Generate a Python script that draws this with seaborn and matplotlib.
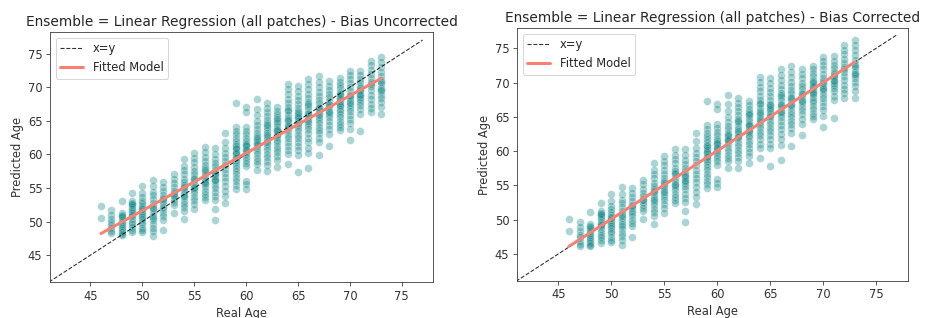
import matplotlib
matplotlib.use("Agg")
import matplotlib.pyplot as plt
import seaborn as sns
import pandas as pd

ages = list(range(46, 74))

# Predicted ages per real age (bias uncorrected)
pred_uncorrected = [
    [52.3, 50.5],
    [51.7, 51.0, 50.4, 49.9, 49.5, 49.0, 48.6, 48.3],
    [53.0, 51.3, 50.9, 50.6, 50.3, 50.0, 49.7, 49.4, 49.1, 48.8, 48.5, 48.2, 48.0, 50.8],
    [54.2, 53.1, 52.8, 52.5, 52.2, 51.9, 51.5, 51.2, 50.8, 50.4, 50.0, 49.6, 49.2, 48.8, 48.4, 52.6, 51.0],
    [55.3, 54.3, 53.6, 53.1, 52.7, 52.3, 52.0, 51.6, 51.3, 51.0, 50.7, 50.4, 50.0, 49.6, 49.0, 48.7, 48.4, 51.8],
    [56.2, 55.3, 54.4, 53.9, 53.3, 52.8, 52.3, 51.8, 51.3, 50.8, 50.2, 49.6, 49.1, 48.6, 47.8, 52.0, 50.5],
    [55.9, 55.2, 54.6, 54.0, 53.5, 53.0, 52.6, 52.2, 51.8, 51.3, 50.8, 50.3, 48.7, 53.3],
    [57.0, 56.4, 55.7, 55.1, 54.6, 54.2, 53.8, 53.4, 52.9, 52.4, 51.3, 54.0],
    [59.3, 58.3, 57.6, 57.0, 56.4, 55.9, 55.4, 55.0, 54.6, 54.1, 53.6, 53.1, 52.6, 52.1, 51.5, 50.4, 55.2, 53.8],
    [60.2, 59.5, 58.8, 58.1, 57.5, 57.0, 56.5, 56.0, 55.6, 55.2, 54.7, 54.2, 53.7, 53.2, 52.6, 51.8, 56.3, 55.0],
    [61.1, 60.3, 59.6, 59.0, 58.4, 57.9, 57.4, 56.9, 56.4, 56.0, 55.6, 55.1, 54.6, 54.1, 53.6, 53.2, 57.6, 55.8],
    [60.9, 60.0, 59.3, 58.7, 58.2, 57.7, 57.2, 56.8, 56.4, 56.0, 55.5, 55.0, 54.4, 53.8, 53.2, 51.9, 50.3, 57.0, 56.2],
    [63.1, 61.9, 60.9, 60.2, 59.6, 59.0, 58.4, 57.8, 57.2, 56.6, 56.0, 55.3, 54.6, 53.8, 52.8],
    [67.6, 64.1, 63.5, 63.0, 62.5, 62.0, 61.6, 61.2, 60.8, 60.4, 60.0, 59.6, 59.2, 58.8, 58.4, 58.0, 57.5, 57.0, 56.5, 56.0, 55.5, 54.9, 60.2, 59.4, 61.0],
    [67.1, 66.3, 64.1, 63.5, 63.0, 62.5, 62.0, 61.6, 61.2, 60.8, 60.4, 60.0, 59.6, 59.2, 58.7, 58.2, 56.1, 55.6, 54.9, 61.4, 60.6],
    [68.2, 66.8, 65.8, 65.0, 64.3, 63.7, 63.2, 62.7, 62.2, 61.8, 61.4, 61.0, 60.5, 60.0, 59.5, 59.0, 58.5, 57.6, 62.4, 61.6],
    [67.6, 66.9, 66.3, 65.7, 65.1, 64.6, 64.1, 63.6, 63.1, 62.6, 62.1, 61.6, 61.1, 60.6, 60.1, 59.6, 59.0, 58.4, 57.5, 62.9, 61.9, 64.3],
    [67.1, 66.5, 66.0, 65.5, 65.0, 64.6, 64.2, 63.8, 63.4, 63.0, 62.6, 62.2, 61.8, 61.3, 60.8, 60.3, 59.7, 59.1, 58.1, 63.6, 62.8, 65.2],
    [70.4, 69.7, 69.0, 68.3, 67.6, 67.0, 66.4, 65.9, 65.4, 64.9, 64.4, 63.9, 63.4, 62.9, 62.4, 61.9, 61.3, 60.7, 60.0, 58.6, 65.1, 64.2, 66.6],
    [70.1, 69.4, 68.7, 68.1, 67.5, 66.9, 66.4, 65.9, 65.4, 64.9, 64.4, 63.9, 63.4, 62.9, 62.4, 61.8, 61.2, 60.6, 59.9, 57.3, 65.6, 64.6, 66.2],
    [71.2, 70.4, 69.7, 69.0, 68.4, 67.8, 67.2, 66.7, 66.2, 65.7, 65.2, 64.7, 64.2, 63.7, 63.1, 62.5, 61.8, 61.0, 60.2, 58.0, 66.0, 65.0, 67.5],
    [71.6, 70.8, 70.0, 69.3, 68.7, 68.1, 67.6, 67.1, 66.6, 66.1, 65.6, 65.1, 64.6, 64.1, 63.6, 63.1, 62.5, 61.8, 59.9, 66.9, 65.9],
    [70.9, 70.2, 69.6, 69.0, 68.5, 68.0, 67.5, 67.0, 66.5, 66.0, 65.5, 65.0, 64.4, 63.7, 63.0, 61.3, 67.3, 66.3],
    [71.3, 70.8, 70.3, 69.8, 69.3, 68.8, 68.4, 68.0, 67.6, 67.2, 66.8, 66.4, 66.0, 65.5, 65.0, 64.5, 64.0, 63.6, 68.2, 67.4, 69.0],
    [72.4, 71.8, 71.2, 70.6, 70.0, 69.4, 68.9, 68.4, 67.9, 67.4, 66.9, 66.4, 65.9, 65.3, 64.7, 63.8, 62.2, 68.7, 67.7],
    [72.4, 71.8, 71.2, 70.7, 70.2, 69.8, 69.4, 69.0, 68.6, 68.2, 67.8, 67.3, 66.7, 66.0, 63.4, 69.6, 68.8],
    [73.9, 73.3, 72.6, 71.9, 71.3, 70.7, 70.1, 69.5, 68.9, 68.2, 67.5, 66.9, 66.3, 70.4],
    [74.5, 73.7, 73.0, 72.3, 71.6, 71.0, 70.4, 69.9, 69.4, 68.9, 68.4, 67.8, 67.0, 66.0, 70.7, 69.6],
]

# Predicted ages per real age (bias corrected)
pred_corrected = [
    [50.1, 48.3],
    [49.6, 48.9, 48.3, 47.8, 47.4, 46.9, 46.5, 46.2],
    [51.1, 49.4, 49.0, 48.7, 48.4, 48.1, 47.8, 47.5, 47.2, 46.9, 46.6, 46.3, 46.1, 48.9],
    [52.4, 51.3, 51.0, 50.7, 50.4, 50.1, 49.7, 49.4, 49.0, 48.6, 48.2, 47.8, 47.4, 47.0, 46.6, 50.8, 49.2],
    [53.7, 52.7, 52.0, 51.5, 51.1, 50.7, 50.4, 50.0, 49.7, 49.4, 49.1, 48.8, 48.4, 48.0, 47.4, 47.1, 46.8, 50.2],
    [54.7, 53.8, 52.9, 52.4, 51.8, 51.3, 50.8, 50.3, 49.8, 49.3, 48.7, 48.1, 47.6, 47.1, 46.3, 50.5, 49.0],
    [54.6, 53.9, 53.3, 52.7, 52.2, 51.7, 51.3, 50.9, 50.5, 50.0, 49.5, 49.0, 47.4, 52.0],
    [55.8, 55.2, 54.5, 53.9, 53.4, 53.0, 52.6, 52.2, 51.7, 51.2, 50.1, 52.8],
    [58.3, 57.3, 56.6, 56.0, 55.4, 54.9, 54.4, 54.0, 53.6, 53.1, 52.6, 52.1, 51.6, 51.1, 50.5, 49.4, 54.2, 52.8],
    [59.3, 58.6, 57.9, 57.2, 56.6, 56.1, 55.6, 55.1, 54.7, 54.3, 53.8, 53.3, 52.8, 52.3, 51.7, 50.9, 55.4, 54.1],
    [60.3, 59.5, 58.8, 58.2, 57.6, 57.1, 56.6, 56.1, 55.6, 55.2, 54.8, 54.3, 53.8, 53.3, 52.8, 52.4, 56.8, 55.0],
    [60.3, 59.4, 58.7, 58.1, 57.6, 57.1, 56.6, 56.2, 55.8, 55.4, 54.9, 54.4, 53.8, 53.2, 52.6, 51.3, 49.7, 56.4, 55.6],
    [62.6, 61.4, 60.4, 59.7, 59.1, 58.5, 57.9, 57.3, 56.7, 56.1, 55.5, 54.8, 54.1, 53.3, 52.3],
    [67.3, 63.8, 63.2, 62.7, 62.2, 61.7, 61.3, 60.9, 60.5, 60.1, 59.7, 59.3, 58.9, 58.5, 58.1, 57.7, 57.2, 56.7, 56.2, 55.7, 55.2, 54.6, 59.9, 59.1, 60.7],
    [66.9, 66.1, 63.9, 63.3, 62.8, 62.3, 61.8, 61.4, 61.0, 60.6, 60.2, 59.8, 59.4, 59.0, 58.5, 58.0, 55.9, 55.4, 54.7, 61.2, 60.4],
    [68.2, 66.8, 65.8, 65.0, 64.3, 63.7, 63.2, 62.7, 62.2, 61.8, 61.4, 61.0, 60.5, 60.0, 59.5, 59.0, 58.5, 57.6, 62.4, 61.6],
    [67.7, 67.0, 66.4, 65.8, 65.2, 64.7, 64.2, 63.7, 63.2, 62.7, 62.2, 61.7, 61.2, 60.7, 60.2, 59.7, 59.1, 58.5, 57.6, 63.0, 62.0, 64.4],
    [67.3, 66.7, 66.2, 65.7, 65.2, 64.8, 64.4, 64.0, 63.6, 63.2, 62.8, 62.4, 62.0, 61.5, 61.0, 60.5, 59.9, 59.3, 58.3, 63.8, 63.0, 65.4],
    [70.8, 70.1, 69.4, 68.7, 68.0, 67.4, 66.8, 66.3, 65.8, 65.3, 64.8, 64.3, 63.8, 63.3, 62.8, 62.3, 61.7, 61.1, 60.4, 59.0, 65.5, 64.6, 67.0],
    [70.6, 69.9, 69.2, 68.6, 68.0, 67.4, 66.9, 66.4, 65.9, 65.4, 64.9, 64.4, 63.9, 63.4, 62.9, 62.3, 61.7, 61.1, 60.4, 57.8, 66.1, 65.1, 66.7],
    [71.9, 71.1, 70.4, 69.7, 69.1, 68.5, 67.9, 67.4, 66.9, 66.4, 65.9, 65.4, 64.9, 64.4, 63.8, 63.2, 62.5, 61.7, 60.9, 58.7, 66.7, 65.7, 68.2],
    [72.4, 71.6, 70.8, 70.1, 69.5, 68.9, 68.4, 67.9, 67.4, 66.9, 66.4, 65.9, 65.4, 64.9, 64.4, 63.9, 63.3, 62.6, 60.7, 67.7, 66.7],
    [71.9, 71.2, 70.6, 70.0, 69.5, 69.0, 68.5, 68.0, 67.5, 67.0, 66.5, 66.0, 65.4, 64.7, 64.0, 62.3, 68.3, 67.3],
    [72.4, 71.9, 71.4, 70.9, 70.4, 69.9, 69.5, 69.1, 68.7, 68.3, 67.9, 67.5, 67.1, 66.6, 66.1, 65.6, 65.1, 64.7, 69.3, 68.5, 70.1],
    [73.7, 73.1, 72.5, 71.9, 71.3, 70.7, 70.2, 69.7, 69.2, 68.7, 68.2, 67.7, 67.2, 66.6, 66.0, 65.1, 63.5, 70.0, 69.0],
    [73.8, 73.2, 72.6, 72.1, 71.6, 71.2, 70.8, 70.4, 70.0, 69.6, 69.2, 68.7, 68.1, 67.4, 64.8, 71.0, 70.2],
    [75.4, 74.8, 74.1, 73.4, 72.8, 72.2, 71.6, 71.0, 70.4, 69.7, 69.0, 68.4, 67.8, 71.9],
    [76.2, 75.4, 74.7, 74.0, 73.3, 72.7, 72.1, 71.6, 71.1, 70.6, 70.1, 69.5, 68.7, 67.7, 72.4, 71.3],
]

# Reference (x=y) line and fitted model end points
identity_x = [41, 77]
fit_x = [46, 73]
fit_uncorrected = [48.2, 71.3]
fit_corrected = [46.1, 73.0]

titles = ["Ensemble = Linear Regression (all patches) - Bias Uncorrected",
          "Ensemble = Linear Regression (all patches) - Bias Corrected"]
xticks = [45, 50, 55, 60, 65, 70, 75]
yticks = [45, 50, 55, 60, 65, 70, 75]


def to_frame(per_age):
    rows = [(a, v) for a, vals in zip(ages, per_age) for v in vals]
    return pd.DataFrame(rows, columns=["Real Age", "Predicted Age"])


sns.set_style("ticks")
plt.rcParams["font.family"] = ["DejaVu Sans"]
plt.rcParams["axes.edgecolor"] = "#333333"
plt.rcParams["xtick.major.size"] = 4
plt.rcParams["ytick.major.size"] = 4

fig = plt.figure(figsize=(927 / 72, 318 / 72), dpi=72)
ax1 = fig.add_axes([50 / 927, 36 / 318, 383 / 927, 250 / 318])
ax2 = fig.add_axes([517 / 927, 37 / 318, 391 / 927, 253 / 318])

panels = [(ax1, pred_uncorrected, fit_uncorrected, titles[0], (41.0, 78.2)),
          (ax2, pred_corrected, fit_corrected, titles[1], (41.05, 77.95))]

for ax, data, fit_y, title, ylim in panels:
    df = to_frame(data)
    sns.scatterplot(data=df, x="Real Age", y="Predicted Age", color="teal",
                    alpha=0.33, s=60, edgecolor="white", linewidth=0.4, ax=ax)
    ax.plot(identity_x, identity_x, color="black", linestyle="--",
            linewidth=1.1, alpha=0.8, label="x=y")
    ax.plot(fit_x, fit_y, color="salmon", linewidth=3, label="Fitted Model")
    ax.set_xlim(41.1, 78.0)
    ax.set_ylim(*ylim)
    ax.set_xticks(xticks)
    ax.set_yticks(yticks)
    ax.tick_params(labelsize=11.5, colors="#333333")
    ax.set_title(title, fontsize=13.8, color="#262626")
    ax.set_xlabel("Real Age", fontsize=11.5, color="#333333")
    ax.set_ylabel("Predicted Age", fontsize=11.5, color="#333333")
    ax.legend(loc="upper left", fontsize=11.5, frameon=True)

fig.savefig("out.png", dpi=72)
